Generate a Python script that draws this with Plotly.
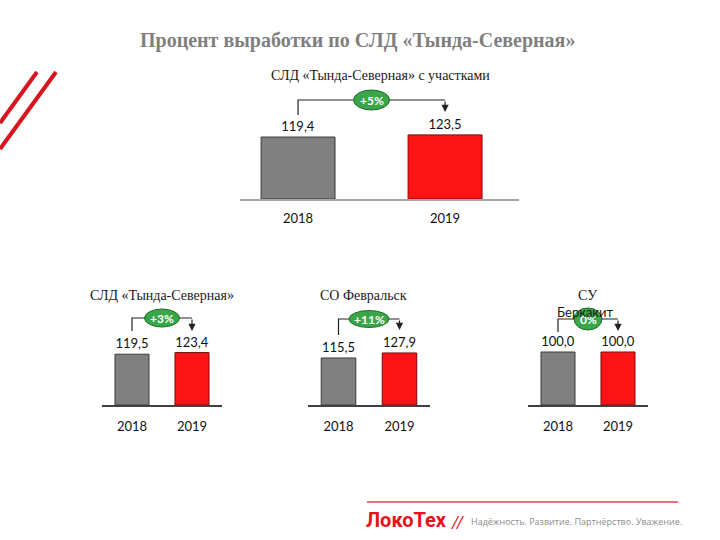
import plotly.graph_objects as go

# ---------------- data ----------------
years = ["2018", "2019"]
chart_titles = ["СЛД «Тында-Северная» с участками", "СЛД «Тында-Северная»", "СО Февральск", "СУ"]
values_total = [119.4, 123.5]
values_tynda = [119.5, 123.4]
values_fevr = [115.5, 127.9]
values_berk = [100.0, 100.0]
changes = ["+5%", "+3%", "+11%", "0%"]
main_title = "Процент выработки по СЛД «Тында-Северная»"
tagline = "Надёжность. Развитие. Партнёрство. Уважение."

W, H = 720, 540
def px(x):
    return x / W
def py(y):
    return 1 - y / H

# ------------- layout geometry (pixels) -------------
charts = [
    dict(vals=values_total, xpx=(240, 519), base=199, top=85, xr=(-0.395, 1.503), scale=0.519,
         bw=0.503, br=(100, 115, 112), ell=(36, 20), tpos=(380, 76), lc="#a6a6a6", std=7),
    dict(vals=values_tynda, xpx=(102, 222), base=405, top=305, xr=(-0.5, 1.5), scale=0.425,
         bw=0.567, br=(318, 331, 331), ell=(35, 18), tpos=(162, 295), lc="#404040", std=9),
    dict(vals=values_fevr, xpx=(308, 430), base=405, top=305, xr=(-0.5, 1.5), scale=0.407,
         bw=0.567, br=(319, 335, 330), ell=(40, 17), tpos=(363, 295), lc="#404040", std=9),
    dict(vals=values_berk, xpx=(528, 648), base=405, top=305, xr=(-0.5, 1.5), scale=0.53,
         bw=0.567, br=(319, 332, 331), ell=(28, 22), tpos=(587, 295), lc="#404040", std=9),
]

bar_colors = ["#808080", "#fe1414"]
bar_lines = ["#3a3a3a", "#7a0a0a"]
sans = "Lato, 'Open Sans', sans-serif"
serif = "'Liberation Serif', 'Times New Roman', serif"

fig = go.Figure()
shapes, annotations = [], []
layout_axes = {}

for i, c in enumerate(charts):
    n = "" if i == 0 else str(i + 1)
    xa, ya = "x" + n, "y" + n
    R = (c["base"] - c["top"]) / c["scale"]
    xs = list(range(len(years)))
    fig.add_trace(go.Bar(
        x=xs, y=c["vals"], xaxis=xa, yaxis=ya, width=c["bw"],
        marker=dict(color=bar_colors, line=dict(color=bar_lines, width=1)),
        texttemplate="%{y:.1f}", textposition="outside", cliponaxis=False,
        textfont=dict(family=sans, size=13, color="#111111"),
        hoverinfo="skip", showlegend=False,
    ))
    layout_axes["xaxis" + n] = dict(
        domain=[px(c["xpx"][0]), px(c["xpx"][1])], anchor=ya, range=list(c["xr"]),
        tickvals=xs, ticktext=years, showline=True, linecolor=c["lc"], linewidth=1.5,
        showgrid=False, zeroline=False, ticks="", ticklabelstandoff=c["std"],
        tickfont=dict(family=sans, size=13, color="#111111"), fixedrange=True,
    )
    layout_axes["yaxis" + n] = dict(
        domain=[py(c["base"]), py(c["top"])], anchor=xa, range=[0, R], visible=False,
        fixedrange=True,
    )
    ytop = (c["base"] - c["br"][0]) / c["scale"]
    yl = (c["base"] - c["br"][1]) / c["scale"]
    yr = (c["base"] - c["br"][2]) / c["scale"]
    shapes.append(dict(type="path", xref=xa, yref=ya,
                       path=f"M 0,{yl} L 0,{ytop} L 1,{ytop}",
                       line=dict(color="#222222", width=1.2)))
    annotations.append(dict(x=1, y=yr, ax=1, ay=ytop, xref=xa, yref=ya, axref=xa, ayref=ya,
                            text="", showarrow=True, arrowhead=2, arrowsize=1.2,
                            arrowwidth=1.2, arrowcolor="#222222"))
    ew, eh = c["ell"]
    shapes.append(dict(type="circle", xref=xa, yref=ya, xsizemode="pixel", ysizemode="pixel",
                       xanchor=0.5, yanchor=ytop, x0=-ew / 2, x1=ew / 2, y0=-eh / 2, y1=eh / 2,
                       fillcolor="#3aa64a", line=dict(color="#1d6b28", width=1)))
    annotations.append(dict(x=0.5, y=ytop, xref=xa, yref=ya, text=f"<b>{changes[i]}</b>",
                            showarrow=False, font=dict(family=sans, size=12, color="white"),
                            xanchor="center", yanchor="middle"))
    annotations.append(dict(x=px(c["tpos"][0]), y=py(c["tpos"][1]), xref="paper", yref="paper",
                            text=chart_titles[i], showarrow=False,
                            font=dict(family=serif, size=14, color="#1a1a1a"),
                            xanchor="center", yanchor="middle"))

# second line of the last subtitle (rendered in sans in the original)
annotations.append(dict(x=px(585), y=py(312), xref="paper", yref="paper", text="Беркакит",
                        showarrow=False, font=dict(family=sans, size=13, color="#1a1a1a"),
                        xanchor="center", yanchor="middle"))

# main title
annotations.append(dict(x=px(357), y=py(40), xref="paper", yref="paper",
                        text=f"<b>{main_title}</b>", showarrow=False,
                        font=dict(family=serif, size=20, color="#7f7f7f"),
                        xanchor="center", yanchor="middle"))

# decorative stripes top-left
for (x0, y0, x1, y1) in [(0, 123, 37, 72), (0, 149, 56, 72)]:
    shapes.append(dict(type="line", xref="paper", yref="paper", x0=px(x0), y0=py(y0),
                       x1=px(x1), y1=py(y1), line=dict(color="#d8141f", width=4)))

# footer
shapes.append(dict(type="line", xref="paper", yref="paper", x0=px(367), y0=py(502),
                   x1=px(678), y1=py(502), line=dict(color="#d9454b", width=1.5)))
annotations.append(dict(x=px(364), y=py(520), xref="paper", yref="paper",
                        text="<b>ЛокоТех</b>", showarrow=False,
                        font=dict(family="Roboto, sans-serif", size=20, color="#e3131b"),
                        xanchor="left", yanchor="middle"))
annotations.append(dict(x=px(449), y=py(522), xref="paper", yref="paper",
                        text="<i>//</i>", showarrow=False,
                        font=dict(family="Roboto, sans-serif", size=16, color="#e3131b"),
                        xanchor="left", yanchor="middle"))
annotations.append(dict(x=px(469), y=py(521), xref="paper", yref="paper",
                        text=tagline, showarrow=False,
                        font=dict(family="'Open Sans', sans-serif", size=9, color="#8c8c8c"),
                        xanchor="left", yanchor="middle"))

fig.update_layout(
    width=W, height=H, margin=dict(l=0, r=0, t=0, b=0),
    paper_bgcolor="white", plot_bgcolor="rgba(0,0,0,0)",
    separators=", ", shapes=shapes, annotations=annotations, showlegend=False,
    **layout_axes,
)

fig.write_html("out.html")
